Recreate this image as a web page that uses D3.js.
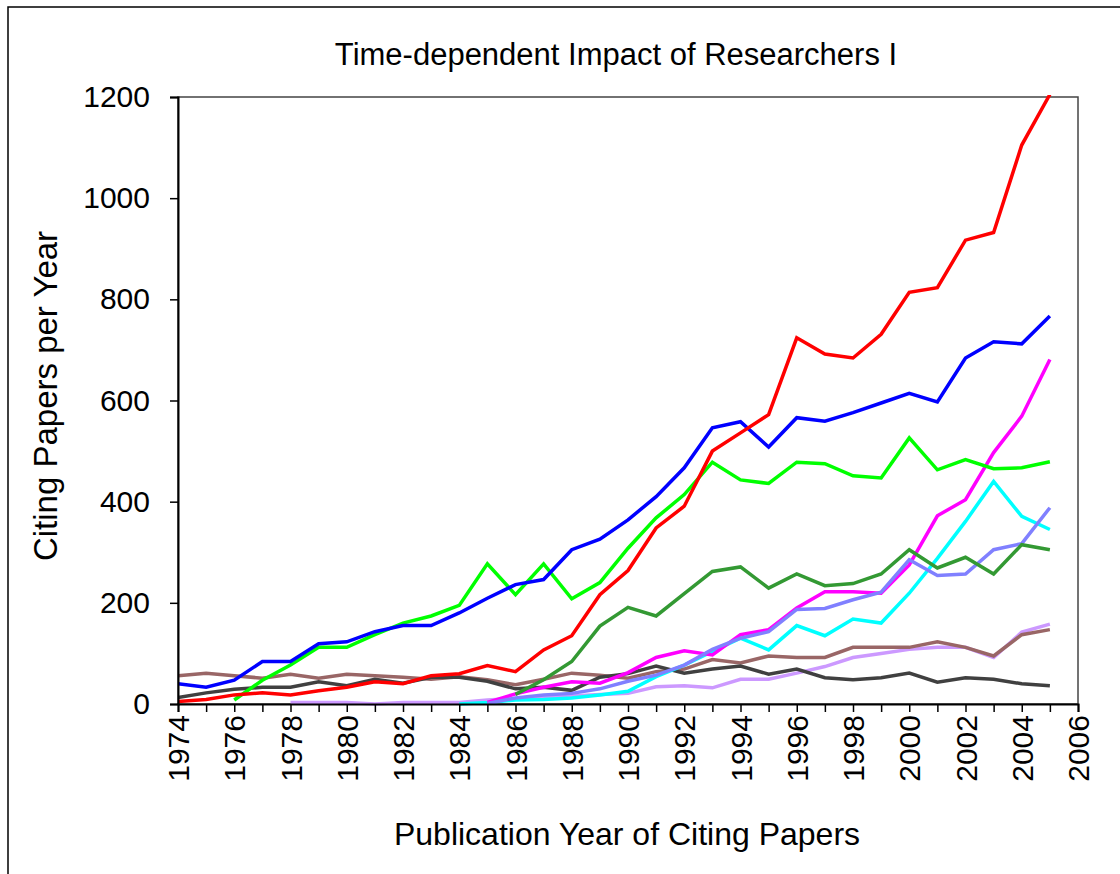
<!DOCTYPE html>
<html>
<head>
<meta charset="utf-8">
<script src="https://cdn.jsdelivr.net/npm/d3@7"></script>
<style>
  html, body { margin: 0; padding: 0; background: #fff; }
  svg { display: block; font-family: "Liberation Sans", Arial, sans-serif; }
</style>
</head>
<body>
<svg id="chart" width="1120" height="874"></svg>
<script>
// ---- data ----
const years = d3.range(1974, 2006);
const yTicks = [0, 200, 400, 600, 800, 1000, 1200];
const xTickLabels = d3.range(1974, 2007, 2);

const seriesNames = ["lavender", "brown", "gray", "cyan", "magenta", "periwinkle", "darkGreen", "green", "blue", "red"];
const seriesColors = ["#CC99FF", "#996666", "#404040", "#00FFFF", "#FF00FF", "#8080FF", "#339933", "#00FF00", "#0000FF", "#FF0000"];

const red = [5, 9, 18, 22, 18, 26, 33, 44, 40, 56, 60, 76, 64, 107, 135, 216, 264, 348, 391, 500, 536, 572, 724, 692, 684, 731, 814, 823, 917, 932, 1105, 1205];
const blue = [40, 33, 47, 84, 84, 119, 123, 143, 155, 155, 180, 209, 236, 246, 305, 326, 364, 410, 467, 546, 558, 508, 566, 559, 576, 595, 614, 597, 684, 716, 712, 767];
const green = [null, null, 8, 47, 77, 112, 112, 137, 160, 174, 195, 277, 216, 277, 208, 240, 308, 368, 414, 478, 443, 436, 478, 475, 451, 447, 526, 463, 483, 465, 467, 479];
const darkGreen = [null, null, null, null, null, null, null, null, null, null, null, null, 19, 48, 84, 154, 191, 174, 218, 262, 271, 229, 257, 234, 238, 257, 305, 269, 290, 257, 315, 305];
const magenta = [null, null, null, null, null, null, null, null, null, null, null, 3, 20, 33, 44, 41, 62, 92, 105, 97, 137, 147, 190, 222, 222, 219, 275, 372, 404, 497, 569, 681];
const cyan = [null, null, null, null, null, null, null, null, null, null, 0, 3, 8, 9, 12, 18, 25, 54, 77, 104, 130, 107, 155, 135, 168, 160, 219, 288, 361, 440, 371, 345];
const periwinkle = [null, null, null, null, null, null, null, null, null, null, null, 1, 12, 18, 21, 30, 45, 57, 77, 108, 130, 143, 187, 189, 206, 221, 285, 254, 257, 305, 317, 388];
const brown = [56, 61, 56, 51, 59, 51, 59, 56, 53, 49, 54, 48, 38, 49, 61, 57, 51, 64, 69, 88, 81, 95, 92, 92, 112, 112, 112, 123, 112, 95, 137, 147];
const gray = [13, 22, 29, 33, 33, 44, 36, 49, 41, 53, 53, 45, 30, 33, 27, 53, 60, 75, 61, 69, 75, 59, 69, 52, 48, 52, 61, 43, 52, 49, 40, 36];
const lavender = [null, null, null, null, 3, 3, 3, 0, 3, 3, 3, 8, 11, 13, 16, 19, 21, 34, 36, 32, 49, 49, 61, 74, 92, 100, 108, 112, 112, 92, 142, 158];

const seriesValues = { red, blue, green, darkGreen, magenta, cyan, periwinkle, brown, gray, lavender };

(function () {
  const svg = d3.select("#chart");
  const pLeft = 178, pRight = 1078, pTop = 97, pBottom = 704;

  const x = d3.scaleLinear().domain([1974, 2006]).range([pLeft, pRight]);
  const y = d3.scaleLinear().domain([0, 1200]).range([pBottom, pTop]);

  // outer frame
  svg.append("rect")
    .attr("x", 8).attr("y", 7).attr("width", 1130).attr("height", 890)
    .attr("fill", "none").attr("stroke", "#000").attr("stroke-width", 1.5);

  // plot frame
  svg.append("rect")
    .attr("x", pLeft).attr("y", pTop).attr("width", pRight - pLeft).attr("height", pBottom - pTop)
    .attr("fill", "none").attr("stroke", "#444").attr("stroke-width", 1.5);

  // title
  svg.append("text")
    .attr("x", 616).attr("y", 65)
    .attr("text-anchor", "middle")
    .attr("font-size", 31)
    .text("Time-dependent Impact of Researchers I");

  // clip
  svg.append("clipPath").attr("id", "clip")
    .append("rect").attr("x", pLeft).attr("y", pTop - 2).attr("width", pRight - pLeft).attr("height", pBottom - pTop + 4);

  const line = d3.line()
    .defined(d => d != null)
    .x((d, i) => x(years[i]))
    .y(d => y(d));

  const g = svg.append("g").attr("clip-path", "url(#clip)");
  seriesNames.forEach((name, k) => {
    g.append("path")
      .datum(seriesValues[name])
      .attr("fill", "none")
      .attr("stroke", seriesColors[k])
      .attr("stroke-width", 3.5)
      .attr("stroke-linejoin", "miter")
      .attr("d", line);
  });

  // y axis
  const yAxis = d3.axisLeft(y).tickValues(yTicks).tickSize(8).tickPadding(20).tickFormat(d3.format("d"));
  const yg = svg.append("g").attr("transform", `translate(${pLeft},0)`).call(yAxis);
  yg.select(".domain").attr("stroke", "#000").attr("stroke-width", 2);
  yg.selectAll(".tick line").attr("stroke", "#000").attr("stroke-width", 1.5);
  yg.selectAll(".tick text").attr("font-size", 30).attr("font-family", "Liberation Sans, Arial, sans-serif").attr("fill", "#000");

  // x axis
  const xAxis = d3.axisBottom(x).tickValues(d3.range(1974, 2007)).tickSize(8)
    .tickFormat(d => xTickLabels.includes(d) ? String(d) : "");
  const xg = svg.append("g").attr("transform", `translate(0,${pBottom})`).call(xAxis);
  xg.select(".domain").attr("stroke", "#000").attr("stroke-width", 2);
  xg.selectAll(".tick line").attr("stroke", "#000").attr("stroke-width", 1.5);
  xg.selectAll(".tick text")
    .attr("font-size", 30)
    .attr("font-family", "Liberation Sans, Arial, sans-serif")
    .attr("fill", "#000")
    .attr("transform", "rotate(-90)")
    .attr("text-anchor", "end")
    .attr("x", -11)
    .attr("y", 0)
    .attr("dy", "0.35em");

  // axis titles
  svg.append("text")
    .attr("transform", "translate(57,396) rotate(-90)")
    .attr("text-anchor", "middle")
    .attr("font-size", 33)
    .text("Citing Papers per Year");

  svg.append("text")
    .attr("x", 627).attr("y", 845)
    .attr("text-anchor", "middle")
    .attr("font-size", 32)
    .text("Publication Year of Citing Papers");
})();
</script>
</body>
</html>
